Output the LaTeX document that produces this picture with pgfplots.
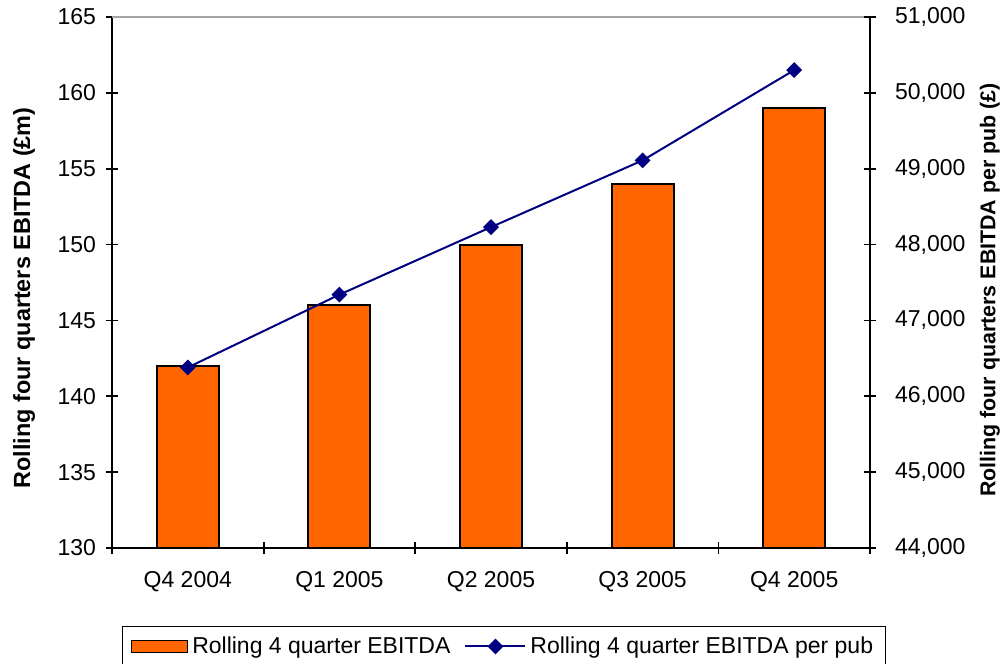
\documentclass[border=0pt]{standalone}
\usepackage{fontspec}
\setmainfont{Liberation Sans}
\usepackage{pgfplots}
\pgfplotsset{compat=1.18}
\definecolor{barorange}{HTML}{FF6600}
\definecolor{linenavy}{HTML}{000080}
\pgfplotsset{
  mylineleg/.style={legend image code/.code={\draw[mark repeat=2,mark phase=2,##1] plot coordinates {(0pt,0pt) (15pt,0pt) (30pt,0pt)};}},
  mybarleg/.style={legend image code/.code={\draw[fill=barorange,draw=black,line width=0.8pt] (0pt,-3pt) rectangle (28pt,3pt);}},
}
\begin{document}
\begin{tikzpicture}
\pgfplotsset{
  every axis/.append style={font=\fontsize{11.5}{13.8}\selectfont},
  /pgf/number format/assume math mode=true,
}
\begin{axis}[
  scale only axis, width=379pt, height=265.5pt,
  xmin=-0.5, xmax=4.5, ymin=130, ymax=165,
  axis x line*=bottom, axis y line*=left,
  xtick={0,1,2,3,4},
  xticklabels={Q4 2004, Q1 2005, Q2 2005, Q3 2005, Q4 2005},
  xticklabel style={yshift=-5pt},
  yticklabel style={xshift=-1.5pt},
  major x tick style={draw=none},
  minor xtick={-0.5,0.5,1.5,2.5,3.5,4.5},
  ytick={130,135,...,165},
  tick align=center, major tick length=6pt, minor tick length=6pt,
  tick style={black, line width=0.9pt},
  axis line style={black, line width=0.9pt, -},
  ylabel={Rolling four quarters EBITDA (£m)},
  ylabel style={font=\fontsize{11.7}{14}\selectfont\bfseries, inner sep=0pt, at={(axis description cs:-0.116,0.471)}, anchor=center},
  after end axis/.code={\draw[gray!70, line width=0.6pt] (rel axis cs:0,1) -- (rel axis cs:1,1);},
]
\addplot[ybar, bar width=31pt, fill=barorange, draw=black, line width=1pt] coordinates {
(0,142) (1,146) (2,150) (3,154) (4,159)};
\coordinate (SW) at (rel axis cs:0,0);
\coordinate (NE) at (rel axis cs:1,1);
\end{axis}
\begin{axis}[
  scale only axis, width=379pt, height=265.5pt,
  xmin=-0.5, xmax=4.5, ymin=44000, ymax=51000,
  axis x line=none, axis y line*=right,
  ytick={44000,45000,...,51000},
  scaled y ticks=false,
  yticklabel style={xshift=6pt, /pgf/number format/.cd, 1000 sep={,}},
  tick align=center, major tick length=6pt,
  tick style={black, line width=0.9pt},
  axis line style={black, line width=0.9pt, -},
  ylabel={Rolling four quarters EBITDA per pub (£)},
  ylabel style={font=\fontsize{10.7}{13}\selectfont\bfseries, inner sep=0pt, at={(axis description cs:1.158,0.486)}, anchor=center},
  legend columns=2,
  legend style={at={(axis description cs:0.517,-0.147)}, anchor=north, draw=black, line width=0.6pt,
    font=\fontsize{11.5}{13.8}\selectfont, inner xsep=4pt, inner ysep=3pt,
    /tikz/every even column/.append style={column sep=5pt}},
]
\addlegendimage{mybarleg}
\addlegendentry{Rolling 4 quarter EBITDA}
\addplot[color=linenavy, line width=1pt, mark=square*, mark size=2.3pt, mark options={rotate=45, fill=linenavy}, mylineleg]
coordinates {(0,46380) (1,47340) (2,48230) (3,49110) (4,50300)};
\addlegendentry{Rolling 4 quarter EBITDA per pub}
\end{axis}
\pgfresetboundingbox
\path ([xshift=-56pt,yshift=-57.5pt]SW) rectangle ([xshift=66.5pt,yshift=8.5pt]NE);
\end{tikzpicture}
\end{document}
